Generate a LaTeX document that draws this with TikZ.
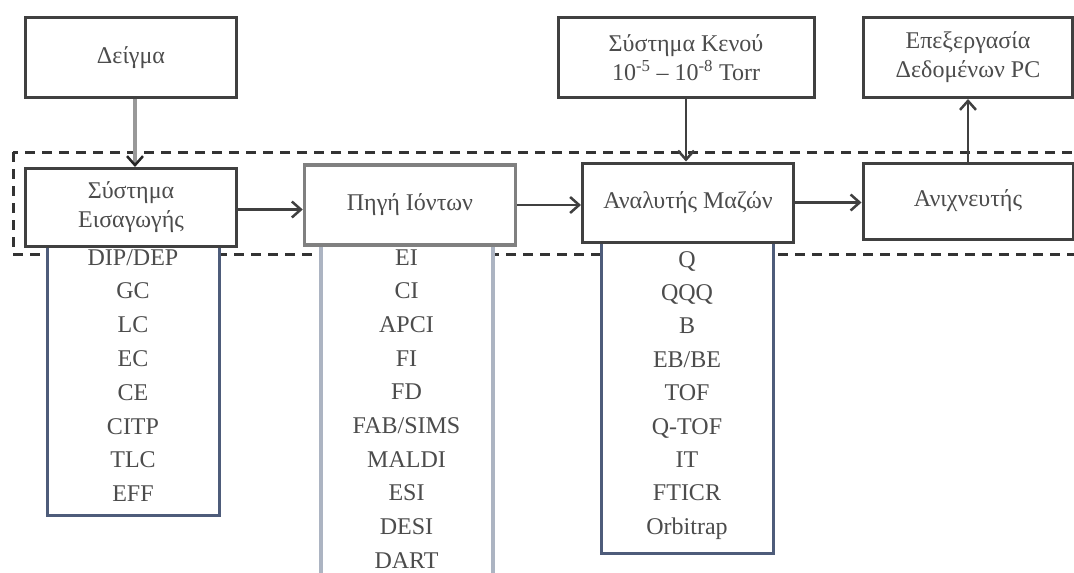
\documentclass[tikz,border=0pt]{standalone}
\usepackage{fontspec}
\setmainfont{Liberation Serif}
\usetikzlibrary{arrows.meta}
\definecolor{slate}{RGB}{78,92,122}
\definecolor{paleslate}{RGB}{172,180,194}

\begin{document}
\begin{tikzpicture}[x=1pt,y=-1pt,
    box/.style={draw=black!75, line width=3pt, fill=white, minimum width=211pt, minimum height=80pt,
        align=center, inner sep=0pt, text=black!70, font=\fontsize{24}{29}\selectfont},
    listbox/.style={draw=#1, line width=3pt, fill=white, minimum width=172pt, anchor=north, inner sep=0pt},
    item/.style={anchor=base, text=black!70, font=\fontsize{24}{29}\selectfont},
    link/.style={draw=black!75, line width=2.5pt, -{Straight Barb[length=9pt,width=16pt]}}]
    \useasboundingbox (0,0) rectangle (1074,573);

    % dashed frame round the instrument
    \draw[black!80, line width=3pt, dash pattern=on 10pt off 7pt] (13,152) rectangle (1095,254);

    % lists under the boxes
    \node[listbox=slate, minimum height=279pt] (inlist) at (133,235) {};
    \node[listbox=paleslate, line width=4pt, minimum height=360pt] (sourcelist) at (406.5,235) {};
    \node[listbox=slate, minimum height=317pt] (masslist) at (687,235) {};
    \foreach \t [count=\i] in {DIP/DEP,GC,LC,EC,CE,CITP,TLC,EFF}
        \node[item] at (133,{265+33.8*(\i-1)}) {\t};
    \foreach \t [count=\i] in {EI,CI,APCI,FI,FD,FAB/SIMS,MALDI,ESI,DESI,DART}
        \node[item] at (406.5,{265+33.7*(\i-1)}) {\t};
    \foreach \t [count=\i] in {Q,QQQ,B,EB/BE,TOF,Q-TOF,IT,FTICR,Orbitrap}
        \node[item] at (687,{267+33.4*(\i-1)}) {\t};

    % boxes
    \node[box] (sample) at (131,57.5) {Δείγμα};
    \node[box, minimum width=256pt] (vacuum) at (686,57.5) {Σύστημα Κενού\\10\textsuperscript{-5} – 10\textsuperscript{-8} Torr};
    \node[box, minimum width=209pt] (pc) at (968,57.5) {Επεξεργασία\\Δεδομένων PC};
    \node[box, minimum height=78pt] (inlet) at (131,207.5) {Σύστημα\\Εισαγωγής};
    \node[box, draw=black!50, line width=3.5pt] (source) at (410,205) {Πηγή Ιόντων};
    \node[box, minimum height=79pt] (analyser) at (688,202.5) {Αναλυτής Μαζών};
    \node[box, minimum width=210pt, minimum height=76pt] (detector) at (968,201) {Ανιχνευτής};

    % arrows
    \draw[link, draw=black!40, line width=4.5pt,
        -{Straight Barb[length=9pt,width=16pt,line width=2.5pt,color=black!85]}]
        ([xshift=4pt]sample.south) -- ([xshift=4pt]inlet.north);
    \draw[link] (vacuum.south) -- (vacuum.south |- analyser.north);
    \draw[link] (detector.north) -- (detector.north |- pc.south);
    \draw[link] ([yshift=-2pt]inlet.east) -- ([yshift=-2pt]inlet.east -| source.west);
    \draw[link] (source.east) -- (source.east -| analyser.west);
    \draw[link] (analyser.east) -- (analyser.east -| detector.west);
\end{tikzpicture}
\end{document}
